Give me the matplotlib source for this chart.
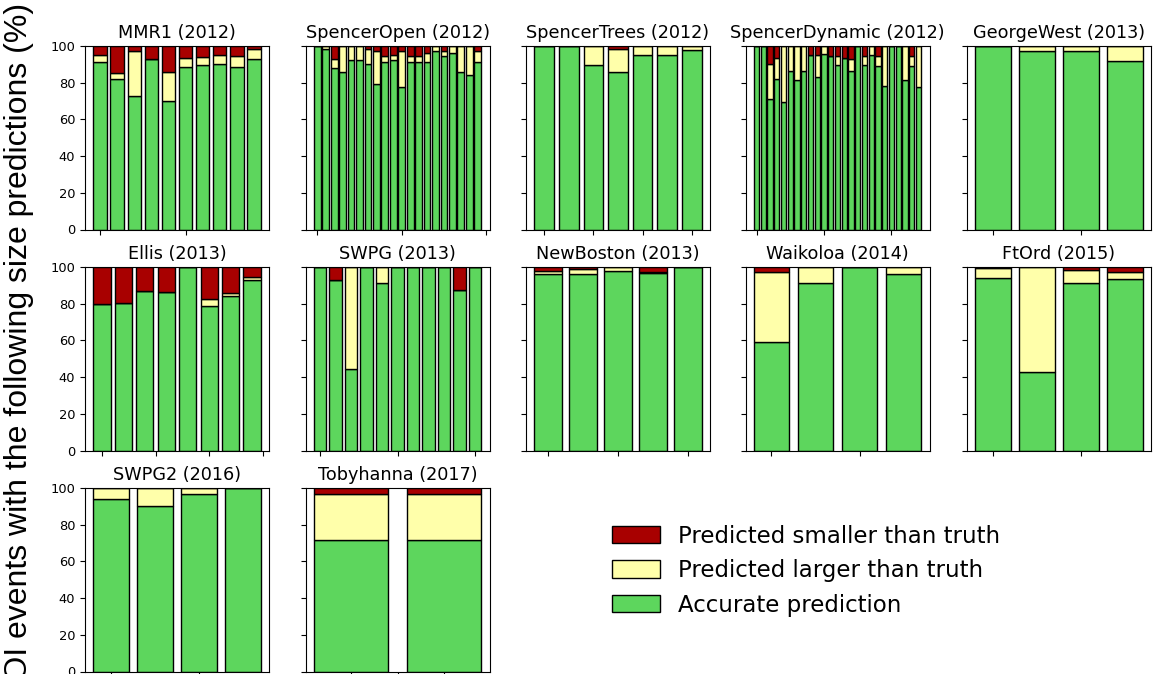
import numpy as np
import matplotlib
matplotlib.use("Agg")
import matplotlib.pyplot as plt
from matplotlib.patches import Patch
from matplotlib.ticker import MaxNLocator

# --- data (percent of ROI events per sub-site) ---
titles = ["MMR1 (2012)", "SpencerOpen (2012)", "SpencerTrees (2012)", "SpencerDynamic (2012)",
          "GeorgeWest (2013)", "Ellis (2013)", "SWPG (2013)", "NewBoston (2013)",
          "Waikoloa (2014)", "FtOrd (2015)", "SWPG2 (2016)", "Tobyhanna (2017)"]

mmr1_acc = [91.1, 81.8, 72.9, 93.1, 70.2, 88.4, 89.5, 90.4, 88.4, 93.1]
mmr1_lrg = [4.2, 3.7, 24.2, 0.0, 15.8, 5.2, 4.3, 4.9, 6.0, 5.4]
mmr1_sml = [4.7, 14.5, 2.9, 6.9, 14.0, 6.4, 6.2, 4.7, 5.6, 1.5]

sopen_acc = [100, 98.5, 88.2, 86.0, 92.4, 92.4, 90.4, 79.1, 91.1, 92.4,
             77.8, 91.5, 91.1, 91.1, 97.1, 94.5, 96.0, 86.0, 84.0, 91.1]
sopen_lrg = [0, 1.5, 4.7, 14.0, 7.6, 7.6, 8.1, 18.2, 3.4, 2.9,
             19.5, 3.0, 3.4, 4.9, 2.9, 2.7, 4.0, 14.0, 16.0, 6.0]
sopen_sml = [0, 0, 7.1, 0, 0, 0, 1.5, 2.7, 5.5, 4.7,
             2.7, 5.5, 5.5, 4.0, 0, 2.8, 0, 0, 0, 2.9]

strees_acc = [100, 100, 89.5, 86.0, 95.1, 95.1, 97.8]
strees_lrg = [0, 0, 10.5, 12.2, 4.9, 4.9, 2.2]
strees_sml = [0, 0, 0, 1.8, 0, 0, 0]

sdyn_acc = [100, 100, 70.9, 81.8, 69.5, 86.4, 81.5, 86.4, 95.3, 82.9, 95.6, 94.5, 89.6,
            93.6, 86.4, 100, 89.6, 95.3, 88.9, 78.2, 100, 100, 81.5, 88.9, 77.8]
sdyn_lrg = [0, 0, 19.5, 11.8, 30.5, 13.6, 18.5, 13.6, 0, 12.4, 4.4, 0, 4.9,
            0, 6.5, 0, 4.9, 4.7, 5.6, 21.8, 0, 0, 18.5, 5.6, 22.2]
sdyn_sml = [0, 0, 9.6, 6.4, 0, 0, 0, 0, 4.7, 4.7, 0, 5.5, 5.5,
            6.4, 7.1, 0, 5.5, 0, 5.5, 0, 0, 0, 0, 5.5, 0]

gwest_acc = [100, 97.3, 97.1, 91.6]
gwest_lrg = [0, 2.7, 2.9, 8.4]
gwest_sml = [0, 0, 0, 0]

ellis_acc = [79.7, 80.4, 86.8, 86.6, 100, 79.0, 84.0, 93.1]
ellis_lrg = [0, 0, 0, 0, 0, 3.6, 1.8, 1.3]
ellis_sml = [20.3, 19.6, 13.2, 13.4, 0, 17.4, 14.2, 5.6]

swpg_acc = [100, 93.1, 44.6, 100, 91.3, 100, 100, 100, 100, 87.5, 100]
swpg_lrg = [0, 0, 55.4, 0, 8.7, 0, 0, 0, 0, 0, 0]
swpg_sml = [0, 6.9, 0, 0, 0, 0, 0, 0, 0, 12.5, 0]

nbos_acc = [96.0, 96.0, 98.0, 96.7, 100]
nbos_lrg = [1.8, 2.7, 2.0, 0.5, 0]
nbos_sml = [2.2, 1.3, 0, 2.8, 0]

waik_acc = [59.0, 91.1, 100, 96.0]
waik_lrg = [38.1, 8.9, 0, 4.0]
waik_sml = [2.9, 0, 0, 0]

ftord_acc = [94.0, 43.0, 91.3, 93.3]
ftord_lrg = [5.5, 57.0, 7.2, 4.0]
ftord_sml = [0.5, 0, 1.5, 2.7]

swpg2_acc = [93.8, 90.2, 96.7, 100]
swpg2_lrg = [6.2, 9.8, 3.3, 0]
swpg2_sml = [0, 0, 0, 0]

toby_acc = [71.6, 71.6]
toby_lrg = [24.9, 24.9]
toby_sml = [3.5, 3.5]

sites = [(mmr1_acc, mmr1_lrg, mmr1_sml), (sopen_acc, sopen_lrg, sopen_sml),
         (strees_acc, strees_lrg, strees_sml), (sdyn_acc, sdyn_lrg, sdyn_sml),
         (gwest_acc, gwest_lrg, gwest_sml), (ellis_acc, ellis_lrg, ellis_sml),
         (swpg_acc, swpg_lrg, swpg_sml), (nbos_acc, nbos_lrg, nbos_sml),
         (waik_acc, waik_lrg, waik_sml), (ftord_acc, ftord_lrg, ftord_sml),
         (swpg2_acc, swpg2_lrg, swpg2_sml), (toby_acc, toby_lrg, toby_sml)]

legend_labels = ["Predicted smaller than truth", "Predicted larger than truth", "Accurate prediction"]

green = "#5dd65d"
yellow = "#ffffaa"
red = "#a80000"

W, H = 1153, 674
fig = plt.figure(figsize=(W / 100, H / 100), dpi=100)

lefts = [85, 305.5, 526, 745.5, 967]
tops = [46, 267, 488]
aw, ah = 184, 183.5

for i, (acc, lrg, sml) in enumerate(sites):
    r, c = divmod(i, 5)
    ax = fig.add_axes([lefts[c] / W, (H - tops[r] - ah) / H, aw / W, ah / H])
    acc = np.array(acc, dtype=float)
    lrg = np.array(lrg, dtype=float)
    sml = np.array(sml, dtype=float)
    x = np.arange(len(acc))
    ax.bar(x, acc, color=green, edgecolor="black", linewidth=1)
    ax.bar(x, lrg, bottom=acc, color=yellow, edgecolor="black", linewidth=1)
    ax.bar(x, sml, bottom=acc + lrg, color=red, edgecolor="black", linewidth=1)
    ax.set_ylim(0, 100)
    ax.set_yticks([0, 20, 40, 60, 80, 100])
    ax.xaxis.set_major_locator(MaxNLocator(nbins=4, steps=[1, 2, 2.5, 5, 10]))
    ax.set_xticklabels([])
    if c != 0:
        ax.set_yticklabels([])
    ax.tick_params(labelsize=9.4)
    ax.set_title(titles[i], fontsize=12.7)

handles = [Patch(facecolor=red, edgecolor="black"),
           Patch(facecolor=yellow, edgecolor="black"),
           Patch(facecolor=green, edgecolor="black")]
fig.legend(handles, legend_labels, loc="upper left", bbox_to_anchor=(591 / W, 1 - 504 / H),
           frameon=False, fontsize=16.5, handlelength=2.1, handleheight=0.8,
           handletextpad=0.8, labelspacing=0.5)

fig.text(4 / W, 1 - 3 / H, "Percentage of ROI events with the following size predictions (%)",
         rotation=90, ha="left", va="top", fontsize=23, family="Liberation Sans")

fig.savefig("out.png", dpi=100)
